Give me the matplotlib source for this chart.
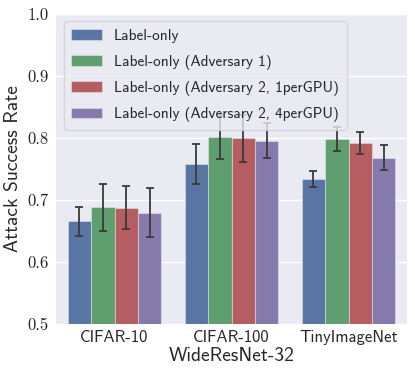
import matplotlib
matplotlib.use("Agg")
import matplotlib.pyplot as plt
import numpy as np

categories = ["CIFAR-10", "CIFAR-100", "TinyImageNet"]
series = ["Label-only", "Label-only (Adversary 1)",
          "Label-only (Adversary 2, 1perGPU)", "Label-only (Adversary 2, 4perGPU)"]
means = {
    "Label-only": [0.665, 0.758, 0.733],
    "Label-only (Adversary 1)": [0.688, 0.801, 0.798],
    "Label-only (Adversary 2, 1perGPU)": [0.687, 0.799, 0.792],
    "Label-only (Adversary 2, 4perGPU)": [0.679, 0.795, 0.768],
}
errs = {
    "Label-only": [0.023, 0.032, 0.013],
    "Label-only (Adversary 1)": [0.038, 0.036, 0.019],
    "Label-only (Adversary 2, 1perGPU)": [0.035, 0.038, 0.018],
    "Label-only (Adversary 2, 4perGPU)": [0.039, 0.028, 0.020],
}
yticks = [0.5, 0.6, 0.7, 0.8, 0.9, 1.0]
colors = ["#5975a4", "#5f9e6e", "#b55d60", "#857aab"]

fig = plt.figure(figsize=(4.15, 3.74), dpi=100)
ax = fig.add_axes([0.135, 0.135, 0.846, 0.828])
ax.set_facecolor("#eaeaf2")
for s in ax.spines.values():
    s.set_visible(False)
ax.grid(True, axis="y", color="white", linewidth=1.0)
ax.set_axisbelow(True)

x = np.arange(len(categories))
w = 0.2
for i, name in enumerate(series):
    pos = x - 0.4 + w * (i + 0.5)
    ax.bar(pos, means[name], width=w, color=colors[i], edgecolor=(1, 1, 1, 0.35),
           linewidth=0.8, label=name)
    ax.errorbar(pos, means[name], yerr=errs[name], fmt="none", ecolor="#3a3a3a",
                elinewidth=1.3, capsize=2.6, capthick=1.3)

ax.set_xlim(-0.5, 2.5)
ax.set_ylim(0.5, 1.0)
ax.set_yticks(yticks)
ax.set_yticklabels([f"{v:.1f}" for v in yticks], fontfamily="cmr10", fontsize=12, color="#262626")
ax.set_xticks(x)
ax.set_xticklabels(categories, fontfamily="cmss10", fontsize=12, color="#262626")
ax.tick_params(length=0, pad=5)
ax.set_ylabel("Attack Success Rate", fontfamily="cmss10", fontsize=14, color="#262626")
ax.set_xlabel("WideResNet-32", fontfamily="cmss10", fontsize=14, color="#262626", labelpad=1)

leg = ax.legend(loc="upper left", prop={"family": "cmss10", "size": 11},
                frameon=True, facecolor="#eaeaf2", edgecolor="#d0d0d8",
                framealpha=0.8, borderpad=0.5, labelspacing=0.75)
for t in leg.get_texts():
    t.set_color("#262626")

fig.savefig("out.png", dpi=100)
